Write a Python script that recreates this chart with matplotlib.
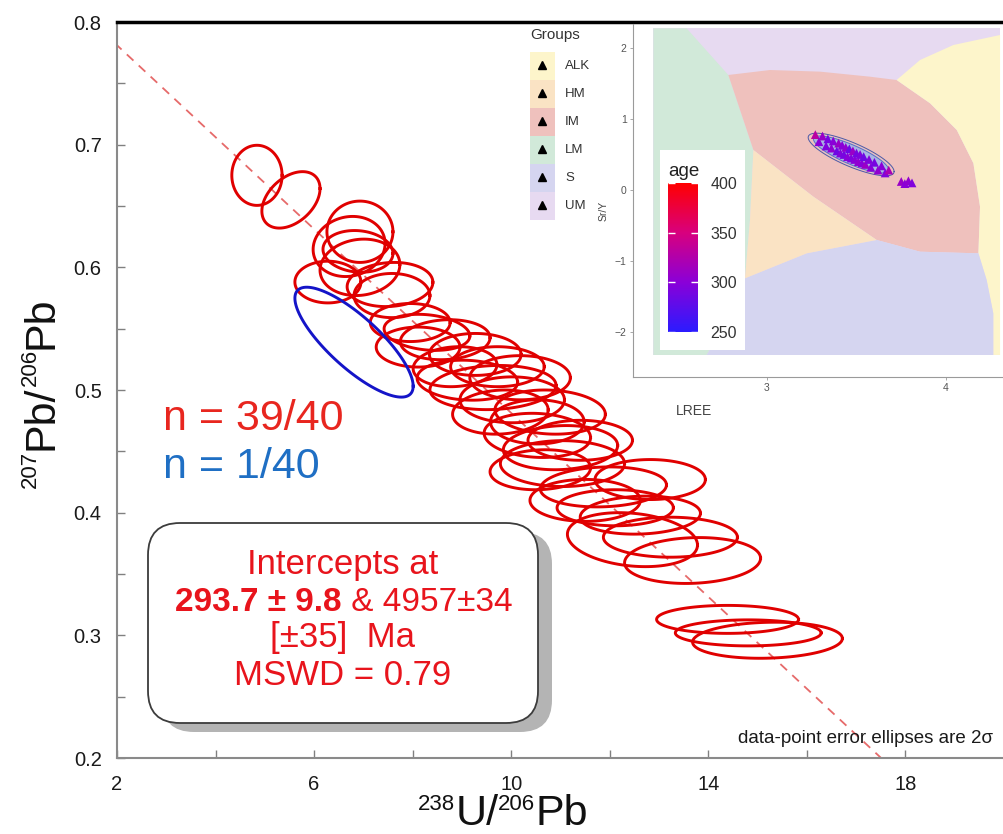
import numpy as np
import matplotlib
matplotlib.use('Agg')
import matplotlib.pyplot as plt
import matplotlib.ticker as ticker
from matplotlib.patches import FancyBboxPatch, Polygon, Rectangle
from matplotlib.colors import LinearSegmentedColormap
from matplotlib.transforms import IdentityTransform

plt.rcParams['font.family'] = ['Liberation Sans', 'DejaVu Sans']

W, H = 1004, 834

# Tera-Wasserburg data: ellipse centres, 2 sigma half-widths, error correlation
u238_pb206 = [4.84, 5.53, 6.93, 6.71, 6.89, 6.28, 6.93, 7.54, 7.58, 8.29,
              8.11, 8.86, 9.72, 9.11, 9.63, 10.02, 10.53, 10.53, 11.00, 11.04,
              11.87, 12.11, 12.46, 13.23, 13.68, 14.39, 14.81, 15.20, 7.95, 8.66,
              9.27, 10.18, 9.78, 10.79, 11.40, 10.59, 11.50, 12.62, 12.82]
pb207_pb206 = [0.675, 0.655, 0.629, 0.617, 0.613, 0.588, 0.600, 0.586, 0.577, 0.547,
               0.535, 0.519, 0.519, 0.508, 0.502, 0.492, 0.474, 0.463, 0.453, 0.440,
               0.421, 0.404, 0.378, 0.380, 0.361, 0.313, 0.302, 0.296, 0.555, 0.541,
               0.529, 0.510, 0.482, 0.482, 0.459, 0.435, 0.410, 0.398, 0.427]
err_x = [0.51, 0.59, 0.67, 0.73, 0.71, 0.67, 0.81, 0.87, 0.77, 0.87,
         0.85, 0.85, 0.95, 1.02, 1.28, 1.06, 0.95, 1.08, 1.16, 1.26,
         1.28, 1.18, 1.32, 1.36, 1.38, 1.44, 1.48, 1.52, 0.81, 0.91,
         0.93, 1.02, 0.97, 1.12, 1.06, 1.02, 1.12, 1.22, 1.12]
err_y = [0.0245, 0.023, 0.025, 0.0245, 0.017, 0.017, 0.023, 0.018, 0.018, 0.0147,
         0.0163, 0.0163, 0.0163, 0.0163, 0.018, 0.0187, 0.018, 0.018, 0.018, 0.0187,
         0.0163, 0.0147, 0.022, 0.0163, 0.0187, 0.0114, 0.0106, 0.0147, 0.0155, 0.0163,
         0.0171, 0.018, 0.018, 0.018, 0.0163, 0.0163, 0.0171, 0.0155, 0.0163]
err_rho = [0.0, 0.4, 0.0, 0.1, -0.1, 0.0, 0.1, 0.1, 0.0, -0.2,
           0.0, 0.1, 0.0, -0.1, 0.1, 0.0, 0.0, -0.1, 0.1, 0.0,
           0.1, 0.0, -0.2, 0.0, 0.1, 0.0, 0.0, 0.1, 0.0, 0.1,
           0.0, 0.0, 0.1, -0.1, 0.0, 0.1, 0.0, 0.1, 0.0]

# rejected analysis
rej_x, rej_y, rej_sx, rej_sy, rej_rho = 6.81, 0.539, 1.20, 0.0448, -0.80

# discordia: common Pb intercept and lower intercept on concordia (293.7 Ma)
common_pb = 0.856
lower_int_x, lower_int_y = 21.45, 0.0522

# inset: Sr/Y vs LREE discrimination fields
group_names = ['ALK', 'HM', 'IM', 'LM', 'S', 'UM']
group_colors = ['#fdf5cb', '#fae3c4', '#efc1bd', '#d1e9d9', '#d5d5f0', '#e7daf1']
panel_lree = (2.365, 4.302)
panel_sry = (-2.324, 2.277)
field_lm = [(2.365, 2.277), (2.551, 2.277), (2.784, 1.620), (2.924, 0.563), (2.905, -0.423),
            (2.877, -1.244), (2.775, -1.831), (2.663, -2.324), (2.365, -2.324)]
field_im = [(2.784, 1.620), (3.017, 1.690), (3.296, 1.667), (3.575, 1.596), (3.724, 1.549),
            (3.911, 1.221), (4.060, 0.845), (4.153, 0.376), (4.190, -0.235), (4.181, -0.892),
            (3.855, -0.869), (3.613, -0.704), (3.259, -0.094), (2.924, 0.563)]
field_alk = [(3.724, 1.549), (3.855, 1.831), (4.041, 2.042), (4.302, 2.183), (4.302, -2.324),
             (4.264, -2.324), (4.264, -1.737), (4.227, -1.268), (4.181, -0.892), (4.190, -0.235),
             (4.153, 0.376), (4.060, 0.845), (3.911, 1.221)]
field_s = [(2.663, -2.324), (2.775, -1.831), (2.877, -1.244), (3.222, -0.892), (3.613, -0.704),
           (3.855, -0.869), (4.181, -0.892), (4.227, -1.268), (4.264, -1.737), (4.264, -2.324)]
field_hm = [(2.924, 0.563), (3.259, -0.094), (3.613, -0.704), (3.222, -0.892), (2.877, -1.244),
            (2.905, -0.423)]

inset_lree = [3.27, 3.29, 3.31, 3.33, 3.34, 3.36, 3.37, 3.39, 3.40, 3.41,
              3.42, 3.43, 3.44, 3.45, 3.46, 3.47, 3.48, 3.49, 3.50, 3.51,
              3.52, 3.53, 3.54, 3.55, 3.57, 3.58, 3.60, 3.62, 3.64, 3.66,
              3.68, 3.75, 3.77, 3.79, 3.81]
inset_sry = [0.78, 0.68, 0.76, 0.62, 0.72, 0.59, 0.69, 0.55, 0.66, 0.52,
             0.63, 0.50, 0.60, 0.47, 0.58, 0.45, 0.55, 0.43, 0.52, 0.40,
             0.50, 0.38, 0.47, 0.36, 0.43, 0.32, 0.39, 0.28, 0.34, 0.24,
             0.28, 0.12, 0.09, 0.13, 0.10]
inset_age = [330, 300, 310, 295, 290, 305, 300, 285, 310, 295,
             300, 290, 305, 300, 285, 295, 310, 300, 290, 305,
             295, 300, 285, 310, 295, 300, 290, 305, 300, 295,
             320, 310, 300, 305, 295]
age_ticks = [250, 300, 350, 400]


def ellipse_xy(cx, cy, sx, sy, r, n=120):
    t = np.linspace(0, 2 * np.pi, n)
    x = cx + sx * np.cos(t)
    y = cy + sy * (r * np.cos(t) + np.sqrt(1 - r * r) * np.sin(t))
    return x, y


def px_axes(left, top, right, bottom):
    return fig.add_axes([left / W, 1 - bottom / H, (right - left) / W, (bottom - top) / H])


def px(x, y):
    return x / W, 1 - y / H


def sup_label(x, y, pieces, rotation=0, color='#111111'):
    # lay out (text, size, rise) pieces along a baseline centred on x, y (pixels from top-left)
    renderer = fig.canvas.get_renderer()
    items = []
    for s, size, rise in pieces:
        t = fig.text(0, 0, s, fontsize=size, color=color, rotation=rotation,
                     rotation_mode='anchor', ha='left', va='baseline',
                     transform=IdentityTransform())
        bb = t.get_window_extent(renderer)
        items.append((t, rise, bb.height if rotation else bb.width))
    pos = -sum(w for _, _, w in items) / 2
    for t, rise, w in items:
        if rotation:
            t.set_position((x - rise, H - y + pos))
        else:
            t.set_position((x + pos, H - y + rise))
        pos += w


fig = plt.figure(figsize=(W / 100, H / 100), dpi=100)

# ---- main concordia plot ----
ax = px_axes(117, 22, 1004, 758)
ax.set_xlim(2, 20)
ax.set_ylim(0.2, 0.8)

ax.plot([0, lower_int_x], [common_pb, lower_int_y], color='#e66a6a', lw=1.3,
        dashes=(5, 4), zorder=1)

for cx, cy, sx, sy, r in zip(u238_pb206, pb207_pb206, err_x, err_y, err_rho):
    ex, ey = ellipse_xy(cx, cy, sx, sy, r)
    ax.plot(ex, ey, color='#e00000', lw=2.1, zorder=2)
ex, ey = ellipse_xy(rej_x, rej_y, rej_sx, rej_sy, rej_rho)
ax.plot(ex, ey, color='#1414c8', lw=2.1, zorder=3)

ax.spines['right'].set_visible(False)
ax.spines['top'].set_color('black')
ax.spines['top'].set_linewidth(2.5)
for s in ['left', 'bottom']:
    ax.spines[s].set_color('#8a8a8a')
    ax.spines[s].set_linewidth(1.5)

ax.yaxis.set_major_locator(ticker.MultipleLocator(0.1))
ax.yaxis.set_minor_locator(ticker.MultipleLocator(0.05))
ax.yaxis.set_major_formatter(ticker.FormatStrFormatter('%.1f'))
ax.xaxis.set_major_locator(ticker.FixedLocator([2, 6, 10, 14, 18]))
ax.xaxis.set_minor_locator(ticker.FixedLocator([4, 8, 12, 16]))
ax.tick_params(axis='both', which='both', direction='in', length=6, width=1,
               color='#808080', labelsize=14.5, labelcolor='#1a1a1a',
               top=False, right=False)
ax.tick_params(axis='y', which='major', pad=11)
ax.tick_params(axis='x', which='major', pad=12)

# axis titles with small raised isotope masses
sup_label(503, 825, [('238', 16, 15), ('U/', 31, 0), ('206', 16, 15), ('Pb', 31, 0)])
sup_label(53, 392, [('207', 16, 17), ('Pb/', 31, 0), ('206', 16, 17), ('Pb', 31, 0)],
          rotation=90)

# sample counts
fig.text(*px(163, 430), 'n = 39/40', fontsize=31, color='#e8261f', va='baseline')
fig.text(*px(163, 478), 'n = 1/40', fontsize=31, color='#1f6fc4', va='baseline')

# intercept box with drop shadow
box_x0, box_y0, box_w, box_h = 148, H - 723, 390, 200
shadow = FancyBboxPatch((box_x0 + 14, box_y0 - 9), box_w, box_h,
                        boxstyle='round,pad=0,rounding_size=32',
                        transform=IdentityTransform(), facecolor='#b4b4b4',
                        edgecolor='none', zorder=5)
box = FancyBboxPatch((box_x0, box_y0), box_w, box_h,
                     boxstyle='round,pad=0,rounding_size=32',
                     transform=IdentityTransform(), facecolor='white',
                     edgecolor='#3c3c3c', lw=1.3, zorder=6)
fig.add_artist(shadow)
fig.add_artist(box)
red = '#e8141c'
fig.text(*px(343, 574), 'Intercepts at', fontsize=25, color=red,
         ha='center', va='baseline', zorder=7)
fig.text(*px(342, 611), '293.7 ± 9.8', fontsize=24, color=red, fontweight='bold',
         ha='right', va='baseline', zorder=7)
fig.text(*px(342, 611), ' & 4957±34', fontsize=24, color=red,
         ha='left', va='baseline', zorder=7)
fig.text(*px(343, 647), '[±35]  Ma', fontsize=25, color=red,
         ha='center', va='baseline', zorder=7)
fig.text(*px(343, 685), 'MSWD = 0.79', fontsize=25, color=red,
         ha='center', va='baseline', zorder=7)

fig.text(*px(993, 743), 'data-point error ellipses are 2σ', fontsize=13.5,
         color='#1a1a1a', ha='right', va='baseline')

# ---- inset: Sr/Y vs LREE ----
axi = px_axes(633, 24, 1004, 377)
axi.set_facecolor('none')
axi.set_xlim(2.2514, 4.324)
axi.set_ylim(-2.634, 2.338)
axi.add_patch(Rectangle((panel_lree[0], panel_sry[0]), panel_lree[1] - panel_lree[0],
                        panel_sry[1] - panel_sry[0], facecolor=group_colors[5],
                        edgecolor='none', zorder=0))
for verts, col in [(field_lm, group_colors[3]), (field_im, group_colors[2]),
                   (field_alk, group_colors[0]), (field_s, group_colors[4]),
                   (field_hm, group_colors[1])]:
    axi.add_patch(Polygon(verts, closed=True, facecolor=col, edgecolor='none', zorder=1))

ex, ey = ellipse_xy(3.47, 0.50, 0.24, 0.30, -0.80)
axi.plot(ex, ey, color='#4a5aa8', lw=0.7, zorder=2)
ex, ey = ellipse_xy(3.47, 0.50, 0.21, 0.26, -0.83)
axi.fill(ex, ey, color='#9db4ea', alpha=0.85, zorder=2)
axi.plot(ex, ey, color='#5a6ab8', lw=0.6, zorder=2)

age_cmap = LinearSegmentedColormap.from_list('age', ['#2b1bff', '#8a00d8', '#d8007e', '#ff0000'])
sc = axi.scatter(inset_lree, inset_sry, c=inset_age, cmap=age_cmap, vmin=250, vmax=400,
                 marker='^', s=40, linewidths=0, zorder=3)

for s in ['top', 'right']:
    axi.spines[s].set_visible(False)
for s in ['left', 'bottom']:
    axi.spines[s].set_color('#9a9a9a')
    axi.spines[s].set_linewidth(0.8)
axi.set_xticks([3, 4])
axi.set_yticks([-2, -1, 0, 1, 2])
axi.tick_params(length=2.5, width=0.6, color='#9a9a9a', labelsize=7.5,
                labelcolor='#555555', pad=2)
axi.set_xlabel('LREE', fontsize=10, color='#444444')
axi.xaxis.set_label_coords(0.164, -0.076)
axi.set_ylabel('Sr/Y', fontsize=7.5, color='#444444')
axi.yaxis.set_label_coords(-0.066, 0.47)

# colour bar for age
cbox = px_axes(660, 150, 745, 350)
cbox.set_facecolor('white')
cbox.set_xticks([])
cbox.set_yticks([])
for s in cbox.spines.values():
    s.set_visible(False)
cax = px_axes(668, 183, 698, 332)
cb = fig.colorbar(sc, cax=cax, ticks=age_ticks)
cb.outline.set_visible(False)
cax.tick_params(direction='in', length=5, width=1, color='white', left=True, right=True,
                labelsize=11.5, labelcolor='#333333', pad=9)
fig.text(*px(668, 176), 'age', fontsize=13.5, color='#222222', va='baseline')

# group legend
axl = px_axes(527, 25, 612, 222)
axl.set_xlim(0, 85)
axl.set_ylim(197, 0)
axl.axis('off')
axl.text(3, 10, 'Groups', fontsize=11, color='#333333', va='center')
for i, (name, col) in enumerate(zip(group_names, group_colors)):
    top = 27 + 28 * i
    axl.add_patch(Rectangle((3, top), 25, 28, facecolor=col, edgecolor='none'))
    axl.plot(15.5, top + 13, marker='^', color='black', markersize=6, linestyle='none')
    axl.text(38, top + 14, name, fontsize=9.5, color='#333333', va='center')

fig.savefig('out.png', dpi=100)
